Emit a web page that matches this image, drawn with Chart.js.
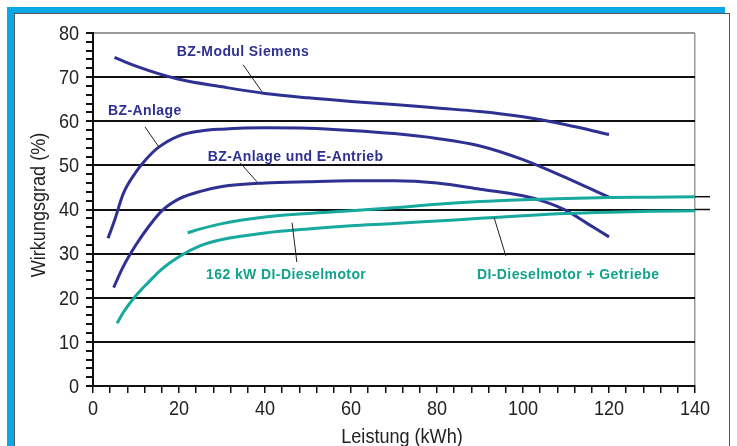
<!DOCTYPE html>
<html>
<head>
<meta charset="utf-8">
<script src="https://cdn.jsdelivr.net/npm/chart.js@4.4.0/dist/chart.umd.min.js"></script>
<style>
  html, body { margin: 0; padding: 0; background: #fff; }
  #wrap { position: relative; width: 737px; height: 446px; overflow: hidden; }
  .cyan { position: absolute; background: #0aa8e6; }
  #box { position: absolute; left: 14px; top: 13px; width: 716px; height: 460px; border: 1px solid #555; background: #fff; box-sizing: border-box; }
  canvas { position: absolute; left: 0; top: 0; }
</style>
</head>
<body>
<div id="wrap">
  <div class="cyan" style="left:7px;top:7px;width:718px;height:6px"></div>
  <div class="cyan" style="left:7px;top:7px;width:7px;height:439px"></div>
  <div id="box"></div>
  <canvas id="chart" width="737" height="446"></canvas>
</div>
<script>
// Werte
const siemensX = [5, 10, 20, 30, 40, 50, 60, 70, 80, 90, 100, 110, 120];
const siemensY = [74.5, 72.5, 69.5, 67.8, 66.3, 65.3, 64.5, 63.8, 63, 62.2, 61, 59.2, 57];

const anlageX = [3.5, 5, 7, 10, 12, 15, 20, 25, 30, 40, 50, 60, 70, 80, 90, 100, 110, 115, 120];
const anlageY = [33.5, 37.5, 43.5, 48.5, 51, 53.9, 56.7, 57.8, 58.2, 58.5, 58.4, 57.9, 57.2, 56.1, 54.4, 51.3, 47.2, 45, 42.8];

const antriebX = [4.8, 7, 10, 13, 16, 20, 25, 30, 40, 50, 60, 70, 80, 90, 100, 105, 110, 115, 120];
const antriebY = [22.3, 27, 32, 36.2, 39.7, 42.4, 44.1, 45.2, 46, 46.3, 46.5, 46.5, 46, 44.6, 43.1, 41.8, 39.8, 36.8, 33.8];

const getriebeX = [22, 25, 30, 40, 50, 60, 70, 80, 90, 100, 110, 120, 130, 140];
const getriebeY = [34.7, 35.6, 36.8, 38.3, 39.1, 39.7, 40.4, 41.2, 41.8, 42.2, 42.5, 42.7, 42.8, 42.9];

const dieselX = [5.6, 7, 10, 13, 16, 20, 25, 30, 40, 50, 60, 70, 80, 90, 100, 110, 120, 130, 140];
const dieselY = [14.2, 16.6, 20.5, 23.6, 26.5, 29.3, 31.8, 33.2, 34.7, 35.6, 36.3, 36.8, 37.4, 38, 38.6, 39.1, 39.4, 39.6, 39.7];

const xTicks = [0, 20, 40, 60, 80, 100, 120, 140];
const yTicks = [0, 10, 20, 30, 40, 50, 60, 70, 80];

const blau = '#2e3192';
const tuerkis = '#17a89e';
const tuerkisText = '#12a28c';
const achsenFont = "21px 'Liberation Sans', Arial, sans-serif";
const schmal = 0.86;

// Beschriftungen im Diagramm (in Datenkoordinaten)
const labels = [
    { text: 'BZ-Modul Siemens', x: 19.5, y: 75.7, color: blau },
    { text: 'BZ-Anlage', x: 3.5, y: 62.4, color: blau },
    { text: 'BZ-Anlage und E-Antrieb', x: 26.7, y: 51.9, color: blau },
    { text: '162 kW DI-Dieselmotor', x: 26.3, y: 25.2, color: tuerkisText },
    { text: 'DI-Dieselmotor + Getriebe', x: 89.3, y: 25.2, color: tuerkisText }
];
const leaders = [
    [34.9, 72.8, 39.3, 66.7],
    [12.1, 58.7, 15.3, 54.2],
    [34.2, 50.6, 38.1, 46.3],
    [46.3, 37.0, 47.4, 28.1],
    [93.3, 38.1, 96.0, 29.5]
];
const stubs = [42.9, 40];

function punkte(xs, ys) {
    return xs.map((x, i) => ({ x: x, y: ys[i] }));
}

function linie(data, color) {
    return {
        data: data,
        borderColor: color,
        borderWidth: 3,
        pointRadius: 0,
        fill: false,
        cubicInterpolationMode: 'monotone'
    };
}

// schmale Schrift: horizontal gestaucht zeichnen
function schmalText(ctx, text, x, y, align, rot) {
    ctx.save();
    ctx.translate(x, y);
    if (rot) ctx.rotate(rot);
    ctx.scale(schmal, 1);
    ctx.textAlign = align;
    ctx.fillText(text, 0, 0);
    ctx.restore();
}

const extras = {
    id: 'extras',
    afterDraw(chart) {
        const ctx = chart.ctx;
        const xs = chart.scales.x;
        const ys = chart.scales.y;
        ctx.save();

        // kurze Linien rechts neben dem Diagramm
        ctx.strokeStyle = '#111';
        ctx.lineWidth = 1.5;
        stubs.forEach(v => {
            ctx.beginPath();
            ctx.moveTo(xs.right, ys.getPixelForValue(v));
            ctx.lineTo(xs.right + 15, ys.getPixelForValue(v));
            ctx.stroke();
        });

        // Hinweislinien
        ctx.strokeStyle = '#222';
        ctx.lineWidth = 1;
        leaders.forEach(l => {
            ctx.beginPath();
            ctx.moveTo(xs.getPixelForValue(l[0]), ys.getPixelForValue(l[1]));
            ctx.lineTo(xs.getPixelForValue(l[2]), ys.getPixelForValue(l[3]));
            ctx.stroke();
        });

        // Texte
        ctx.font = "bold 14px 'Liberation Sans', Arial, sans-serif";
        ctx.letterSpacing = '0.4px';
        ctx.textBaseline = 'middle';
        ctx.textAlign = 'left';
        labels.forEach(l => {
            ctx.fillStyle = l.color;
            ctx.fillText(l.text, xs.getPixelForValue(l.x), ys.getPixelForValue(l.y));
        });
        ctx.letterSpacing = '0px';

        // Achsenbeschriftung
        ctx.fillStyle = '#222';
        ctx.font = achsenFont;
        yTicks.forEach(v => schmalText(ctx, String(v), 79, ys.getPixelForValue(v) + 1, 'right'));
        xTicks.forEach(v => schmalText(ctx, String(v), xs.getPixelForValue(v), 409, 'center'));

        // Achsentitel
        schmalText(ctx, 'Leistung (kWh)', 402, 437, 'center');
        schmalText(ctx, 'Wirkungsgrad (%)', 39, 205, 'center', -Math.PI / 2);
        ctx.restore();
    }
};

new Chart(document.getElementById('chart'), {
    type: 'line',
    data: {
        datasets: [
            linie(punkte(getriebeX, getriebeY), tuerkis),
            linie(punkte(dieselX, dieselY), tuerkis),
            linie(punkte(siemensX, siemensY), blau),
            linie(punkte(anlageX, anlageY), blau),
            linie(punkte(antriebX, antriebY), blau)
        ]
    },
    options: {
        responsive: false,
        animation: false,
        layout: { padding: { left: 0, right: 42, top: 33, bottom: 0 } },
        plugins: { legend: { display: false }, tooltip: { enabled: false } },
        scales: {
            x: {
                type: 'linear',
                min: 0,
                max: 140,
                afterFit: s => { s.height = 60; },
                ticks: { stepSize: 4, autoSkip: false, maxRotation: 0, display: false },
                grid: {
                    color: c => c.tick && c.tick.value === 140 ? '#9a9a9a' : 'rgba(0,0,0,0)',
                    lineWidth: 1.5,
                    tickColor: '#111',
                    tickLength: 7
                },
                border: { color: '#111', width: 2 }
            },
            y: {
                min: 0,
                max: 80,
                afterFit: s => { s.width = 93; },
                ticks: { stepSize: 2, autoSkip: false, display: false },
                grid: {
                    color: c => {
                        if (!c.tick) return 'rgba(0,0,0,0)';
                        if (c.tick.value === 80) return '#9a9a9a';
                        return c.tick.value % 10 === 0 ? '#111' : 'rgba(0,0,0,0)';
                    },
                    lineWidth: 2,
                    tickColor: '#111',
                    tickLength: 7
                },
                border: { color: '#111', width: 2 }
            }
        }
    },
    plugins: [extras]
});
</script>
</body>
</html>
